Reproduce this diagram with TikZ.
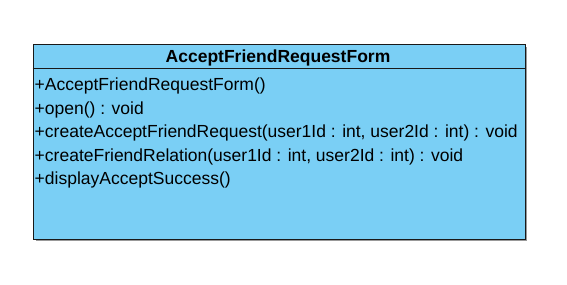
\documentclass[tikz,border=0pt]{standalone}
\usepackage{fontspec}
\setmainfont{Liberation Sans}
\usetikzlibrary{positioning, calc}
\definecolor{classblue}{RGB}{122,207,245}
\definecolor{classline}{RGB}{25,25,25}

\tikzset{
  classbox/.style={draw=classline, line width=0.9bp, fill=classblue, inner sep=0pt},
  classname/.style={anchor=base, inner sep=0pt, font=\fontsize{17.5bp}{20bp}\selectfont\bfseries},
  member/.style={anchor=base west, inner sep=0pt, font=\fontsize{17.5bp}{20bp}\selectfont},
}

\begin{document}
\begin{tikzpicture}[x=1bp, y=-1bp]
    \useasboundingbox (0,0) rectangle (567,284);

    % Ombra della classe
    \fill[black!40] (35.5,46.5) rectangle (527,241);

    % Classe AcceptFriendRequestForm
    \node[classbox, minimum width=492bp, minimum height=195bp] (form) at (279,141.5) {};
    \node[classname] (formname) at ($(form.north)+(-1,19)$) {AcceptFriendRequestForm};
    \coordinate (sepL) at ($(form.north west)+(0,25)$);
    \coordinate (sepR) at ($(form.north east)+(0,25)$);
    \draw[classline, line width=0.9bp] (sepL) -- (sepR);

    % Operazioni
    \node[member] (op1) at ($(form.north west)+(2,47)$) {+AcceptFriendRequestForm()};
    \node[member] (op2) at ($(form.north west)+(2,70.5)$) {+open() : void};
    \node[member] (op3) at ($(form.north west)+(2,94)$) {+createAcceptFriendRequest(user1Id : int, user2Id : int) : void};
    \node[member] (op4) at ($(form.north west)+(2,117.5)$) {+createFriendRelation(user1Id : int, user2Id : int) : void};
    \node[member] (op5) at ($(form.north west)+(2,141)$) {+displayAcceptSuccess()};
\end{tikzpicture}
\end{document}
